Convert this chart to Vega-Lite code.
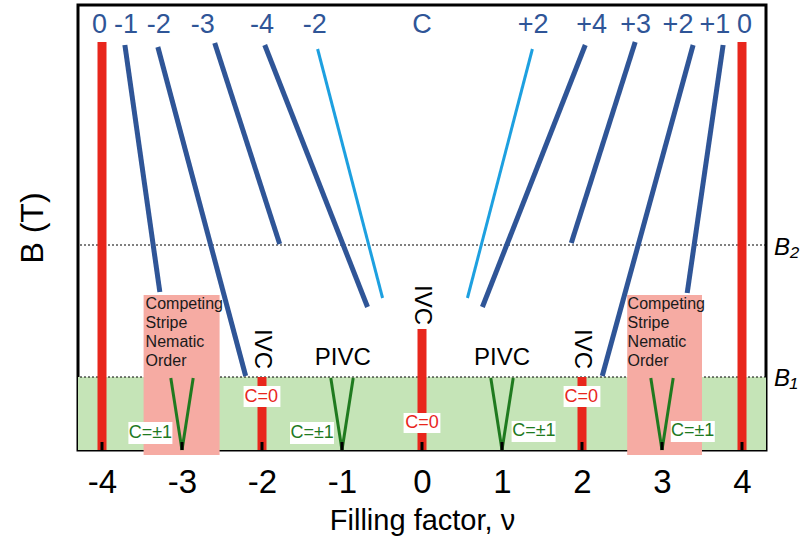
{
  "$schema": "https://vega.github.io/schema/vega-lite/v6.json",
  "autosize": "none",
  "width": 688,
  "height": 445,
  "padding": {"left": 78, "top": 5, "right": 34, "bottom": 93},
  "background": "white",
  "config": {
    "view": {"stroke": "black", "strokeWidth": 3},
    "font": "Liberation Sans"
  },
  "datasets": {
    "green": [{"x": -4.3, "x2": 4.3, "y": 0, "y2": 0.73}],
    "pink": [{"x": -3.48, "x2": -2.53, "y": -0.05, "y2": 1.55}, {"x": 2.565, "x2": 3.5, "y": -0.05, "y2": 1.55}],
    "levels": [{"y": 0.73}, {"y": 2.05}],
    "red": [{"x": -4, "y": 0, "y2": 4.08}, {"x": 4, "y": 0, "y2": 4.08}, {"x": -2, "y": 0, "y2": 0.73}, {"x": 2, "y": 0, "y2": 0.73}, {"x": 0, "y": 0, "y2": 1.21}],
    "vee": [
      {"x": -3.14, "y": 0.72, "x2": -3, "y2": 0}, {"x": -2.86, "y": 0.72, "x2": -3, "y2": 0},
      {"x": -1.14, "y": 0.72, "x2": -1, "y2": 0}, {"x": -0.86, "y": 0.72, "x2": -1, "y2": 0},
      {"x": 0.86, "y": 0.72, "x2": 1, "y2": 0}, {"x": 1.14, "y": 0.72, "x2": 1, "y2": 0},
      {"x": 2.86, "y": 0.72, "x2": 3, "y2": 0}, {"x": 3.14, "y": 0.72, "x2": 3, "y2": 0}
    ],
    "dark": [
      {"x": -3.714, "y": 4.05, "x2": -3.277, "y2": 1.58},
      {"x": -3.302, "y": 4.03, "x2": -2.204, "y2": 0.74},
      {"x": -2.591, "y": 4.07, "x2": -1.779, "y2": 2.06},
      {"x": -1.966, "y": 4.05, "x2": -0.681, "y2": 1.43},
      {"x": 2.041, "y": 4.05, "x2": 0.755, "y2": 1.43},
      {"x": 2.665, "y": 4.08, "x2": 1.866, "y2": 2.07},
      {"x": 3.389, "y": 4.05, "x2": 2.253, "y2": 0.74},
      {"x": 3.764, "y": 4.05, "x2": 3.315, "y2": 1.57}
    ],
    "light": [
      {"x": -1.305, "y": 4.01, "x2": -0.493, "y2": 1.52},
      {"x": 1.38, "y": 4.01, "x2": 0.568, "y2": 1.52}
    ],
    "boxes": [
      {"x": -2.23, "x2": -1.77, "y": 0.43, "y2": 0.64},
      {"x": -0.23, "x2": 0.23, "y": 0.17, "y2": 0.37},
      {"x": 1.77, "x2": 2.23, "y": 0.43, "y2": 0.64},
      {"x": -3.67, "x2": -3.12, "y": 0.06, "y2": 0.28},
      {"x": -1.65, "x2": -1.1, "y": 0.06, "y2": 0.28},
      {"x": 1.12, "x2": 1.67, "y": 0.08, "y2": 0.29},
      {"x": 3.11, "x2": 3.66, "y": 0.08, "y2": 0.29}
    ],
    "c0": [{"x": -2.01, "y": 0.535, "t": "C=0"}, {"x": 0, "y": 0.27, "t": "C=0"}, {"x": 1.99, "y": 0.535, "t": "C=0"}],
    "c1": [{"x": -3.395, "y": 0.17, "t": "C=±1"}, {"x": -1.373, "y": 0.17, "t": "C=±1"}, {"x": 1.398, "y": 0.19, "t": "C=±1"}, {"x": 3.383, "y": 0.19, "t": "C=±1"}],
    "top": [
      {"x": -4.03, "t": "0"}, {"x": -3.7, "t": "-1"}, {"x": -3.29, "t": "-2"}, {"x": -2.74, "t": "-3"},
      {"x": -2.0, "t": "-4"}, {"x": -1.34, "t": "-2"}, {"x": 0, "t": "C"}, {"x": 1.39, "t": "+2"},
      {"x": 2.12, "t": "+4"}, {"x": 2.67, "t": "+3"}, {"x": 3.2, "t": "+2"}, {"x": 3.66, "t": "+1"}, {"x": 4.03, "t": "0"}
    ],
    "ivc": [{"x": -2.0, "y": 1.01}, {"x": 0, "y": 1.45}, {"x": 2.0, "y": 1.01}],
    "pivc": [{"x": -0.99, "y": 0.92}, {"x": 1.0, "y": 0.92}],
    "csno": [{"x": -3.455, "y": 1.46}, {"x": 2.57, "y": 1.46}],
    "blab": [{"x": 4.4, "y": 2.02, "t": "B₂"}, {"x": 4.4, "y": 0.71, "t": "B₁"}],
    "ticks": [{"x": -4}, {"x": -3}, {"x": -2}, {"x": -1}, {"x": 0}, {"x": 1}, {"x": 2}, {"x": 3}, {"x": 4}]
  },
  "layer": [
    {
      "data": {"name": "green"},
      "mark": {"type": "rect", "color": "#c5e4b7"},
      "encoding": {
        "x": {"field": "x", "type": "quantitative", "scale": {"domain": [-4.3, 4.3], "nice": false, "zero": false},
          "axis": {"values": [-4, -3, -2, -1, 0, 1, 2, 3, 4], "ticks": false, "domain": false, "grid": false,
            "labelExpr": "datum.value < 0 ? '-' + abs(datum.value) : '' + datum.value",
            "labelFontSize": 33, "labelColor": "black", "labelPadding": 16, "labelFont": "Liberation Sans",
            "title": "Filling factor, ν", "titleFontSize": 29, "titleFontWeight": "normal", "titleColor": "black", "titlePadding": 7, "titleFont": "Liberation Sans"}},
        "x2": {"field": "x2"},
        "y": {"field": "y", "type": "quantitative", "scale": {"domain": [0, 4.45], "nice": false, "zero": false},
          "axis": {"labels": false, "ticks": false, "domain": false, "grid": false,
            "title": "B (T)", "titleFontSize": 32, "titleFontWeight": "normal", "titleColor": "black", "titlePadding": 29, "titleFont": "Liberation Sans"}},
        "y2": {"field": "y2"}
      }
    },
    {
      "data": {"name": "levels"},
      "mark": {"type": "rule", "color": "black", "strokeWidth": 1, "strokeDash": [2, 2]},
      "encoding": {"y": {"field": "y", "type": "quantitative"}}
    },
    {
      "data": {"name": "pink"},
      "mark": {"type": "rect", "color": "#f6aba3"},
      "encoding": {"x": {"field": "x", "type": "quantitative"}, "x2": {"field": "x2"}, "y": {"field": "y", "type": "quantitative"}, "y2": {"field": "y2"}}
    },
    {
      "data": {"name": "red"},
      "mark": {"type": "rule", "color": "#e8261c", "strokeWidth": 9},
      "encoding": {"x": {"field": "x", "type": "quantitative"}, "y": {"field": "y", "type": "quantitative"}, "y2": {"field": "y2"}}
    },
    {
      "data": {"name": "vee"},
      "mark": {"type": "rule", "color": "#1f7a1f", "strokeWidth": 3},
      "encoding": {"x": {"field": "x", "type": "quantitative"}, "x2": {"field": "x2"}, "y": {"field": "y", "type": "quantitative"}, "y2": {"field": "y2"}}
    },
    {
      "data": {"name": "dark"},
      "mark": {"type": "rule", "color": "#2f5597", "strokeWidth": 5},
      "encoding": {"x": {"field": "x", "type": "quantitative"}, "x2": {"field": "x2"}, "y": {"field": "y", "type": "quantitative"}, "y2": {"field": "y2"}}
    },
    {
      "data": {"name": "light"},
      "mark": {"type": "rule", "color": "#1da0e0", "strokeWidth": 3},
      "encoding": {"x": {"field": "x", "type": "quantitative"}, "x2": {"field": "x2"}, "y": {"field": "y", "type": "quantitative"}, "y2": {"field": "y2"}}
    },
    {
      "data": {"name": "boxes"},
      "mark": {"type": "rect", "color": "white"},
      "encoding": {"x": {"field": "x", "type": "quantitative"}, "x2": {"field": "x2"}, "y": {"field": "y", "type": "quantitative"}, "y2": {"field": "y2"}}
    },
    {
      "data": {"name": "c0"},
      "mark": {"type": "text", "color": "#e8261c", "fontSize": 18, "baseline": "middle", "align": "center"},
      "encoding": {"x": {"field": "x", "type": "quantitative"}, "y": {"field": "y", "type": "quantitative"}, "text": {"field": "t"}}
    },
    {
      "data": {"name": "c1"},
      "mark": {"type": "text", "color": "#1f7a1f", "fontSize": 18, "baseline": "middle", "align": "center"},
      "encoding": {"x": {"field": "x", "type": "quantitative"}, "y": {"field": "y", "type": "quantitative"}, "text": {"field": "t"}}
    },
    {
      "data": {"name": "top"},
      "mark": {"type": "text", "color": "#2f5597", "fontSize": 27, "baseline": "middle", "align": "center"},
      "encoding": {"x": {"field": "x", "type": "quantitative"}, "y": {"datum": 4.25, "type": "quantitative"}, "text": {"field": "t"}}
    },
    {
      "data": {"name": "ivc"},
      "mark": {"type": "text", "color": "black", "fontSize": 24, "angle": 90, "baseline": "middle", "align": "center", "text": "IVC"},
      "encoding": {"x": {"field": "x", "type": "quantitative"}, "y": {"field": "y", "type": "quantitative"}}
    },
    {
      "data": {"name": "pivc"},
      "mark": {"type": "text", "color": "black", "fontSize": 24, "baseline": "middle", "align": "center", "text": "PIVC"},
      "encoding": {"x": {"field": "x", "type": "quantitative"}, "y": {"field": "y", "type": "quantitative"}}
    },
    {
      "data": {"name": "csno"},
      "mark": {"type": "text", "color": "#1a1a1a", "fontSize": 16, "baseline": "middle", "align": "left", "lineHeight": 19, "text": ["Competing", "Stripe", "Nematic", "Order"]},
      "encoding": {"x": {"field": "x", "type": "quantitative"}, "y": {"field": "y", "type": "quantitative"}}
    },
    {
      "data": {"name": "blab"},
      "mark": {"type": "text", "color": "black", "fontSize": 24, "fontStyle": "italic", "baseline": "middle", "align": "left"},
      "encoding": {"x": {"field": "x", "type": "quantitative"}, "y": {"field": "y", "type": "quantitative"}, "text": {"field": "t"}}
    },
    {
      "data": {"name": "ticks"},
      "mark": {"type": "rule", "color": "black", "strokeWidth": 3},
      "encoding": {"x": {"field": "x", "type": "quantitative"}, "y": {"datum": 0, "type": "quantitative"}, "y2": {"datum": 0.08}}
    }
  ]
}
